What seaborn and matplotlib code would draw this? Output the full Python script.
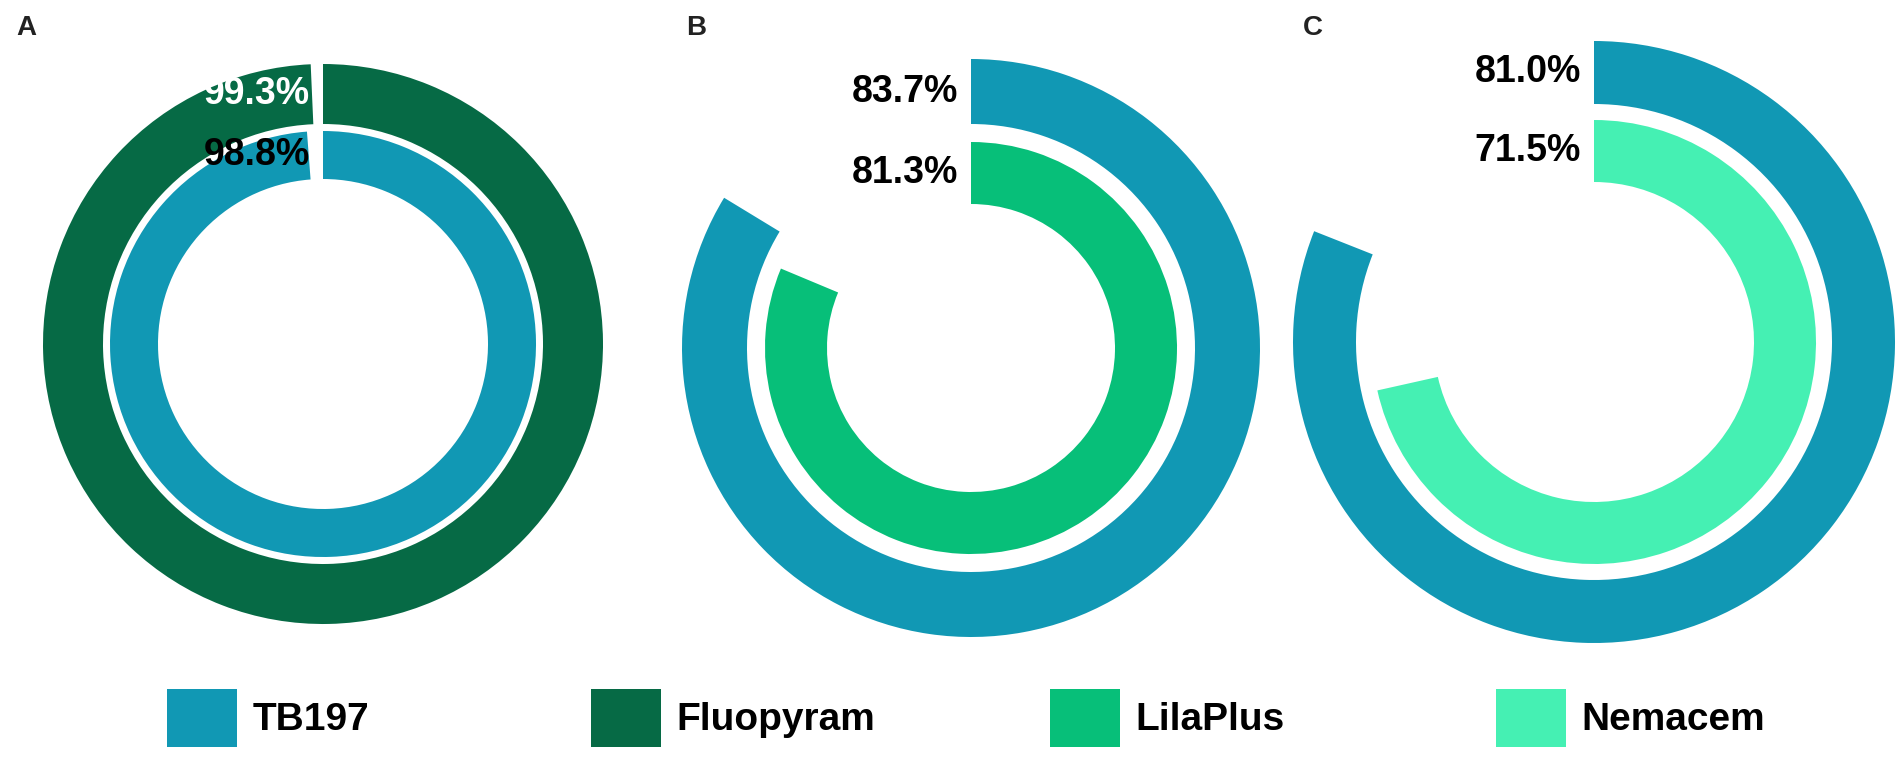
import numpy as np
import matplotlib
matplotlib.use("Agg")
import matplotlib.pyplot as plt
from matplotlib.patches import Patch
from matplotlib.transforms import offset_copy
import seaborn as sns

sns.set_theme(style="white")
plt.rcParams["font.family"] = ["Liberation Sans", "DejaVu Sans"]

# datos: porcentaje de cada tratamiento (anillo externo, anillo interno)
panel_ids = ["A", "B", "C"]
outer_names = ["Fluopyram", "TB197", "TB197"]
outer_values = [99.3, 83.7, 81.0]
inner_names = ["TB197", "LilaPlus", "Nemacem"]
inner_values = [98.8, 81.3, 71.5]
legend_names = ["TB197", "Fluopyram", "LilaPlus", "Nemacem"]

colores = {
    "TB197": "#1198b4",
    "Fluopyram": "#066a45",
    "LilaPlus": "#07bf79",
    "Nemacem": "#45f0b3",
}

W, H = 1902, 761
fig = plt.figure(figsize=(W / 100, H / 100), dpi=100)

# geometría de cada panel en pixeles: centro, anillo externo, anillo interno
centros = [(323, 344), (971, 348), (1594, 342)]
anillo_ext = [(220, 280), (224, 289), (238, 301)]
anillo_int = [(165, 213), (144, 206), (160, 222)]
color_texto_ext = ["white", "black", "black"]
letra_x = [16, 686, 1303]

for i in range(3):
    cx, cy = centros[i]
    R = anillo_ext[i][1] + 2
    ax = fig.add_axes([(cx - R) / W, 1 - (cy + R) / H, 2 * R / W, 2 * R / H],
                      projection="polar")
    ax.set_theta_offset(np.pi / 2)
    ax.set_theta_direction(-1)
    ax.set_ylim(0, R)
    ax.set_axis_off()

    anillos = [
        (outer_values[i], outer_names[i], anillo_ext[i], color_texto_ext[i]),
        (inner_values[i], inner_names[i], anillo_int[i], "black"),
    ]
    trans = offset_copy(ax.transData, fig=fig, x=-13, y=0, units="dots")
    for valor, nombre, (r0, r1), ctext in anillos:
        ax.bar(0, r1 - r0, width=valor / 100 * 2 * np.pi, bottom=r0,
               align="edge", color=colores[nombre], linewidth=0)
        ax.text(0, (r0 + r1) / 2, f"{valor:.1f}%", transform=trans,
                ha="right", va="center", fontsize=27, fontweight="bold",
                color=ctext)

    fig.text(letra_x[i] / W, 1 - 28 / H, panel_ids[i], fontsize=20,
             fontweight="bold", color="#222222", ha="left", va="center")

# leyenda inferior
leyenda_x = [167, 591, 1050, 1496]
for nombre, lx in zip(legend_names, leyenda_x):
    fig.legend(handles=[Patch(facecolor=colores[nombre], edgecolor="none")],
               labels=[nombre], loc="center left",
               bbox_to_anchor=(lx / W, 1 - 718 / H), frameon=False,
               borderpad=0, borderaxespad=0, handlelength=1.8,
               handleheight=1.9, handletextpad=0.4, labelcolor="black",
               prop={"size": 28, "weight": "bold"})

plt.savefig("out.png", dpi=100)
plt.close()
